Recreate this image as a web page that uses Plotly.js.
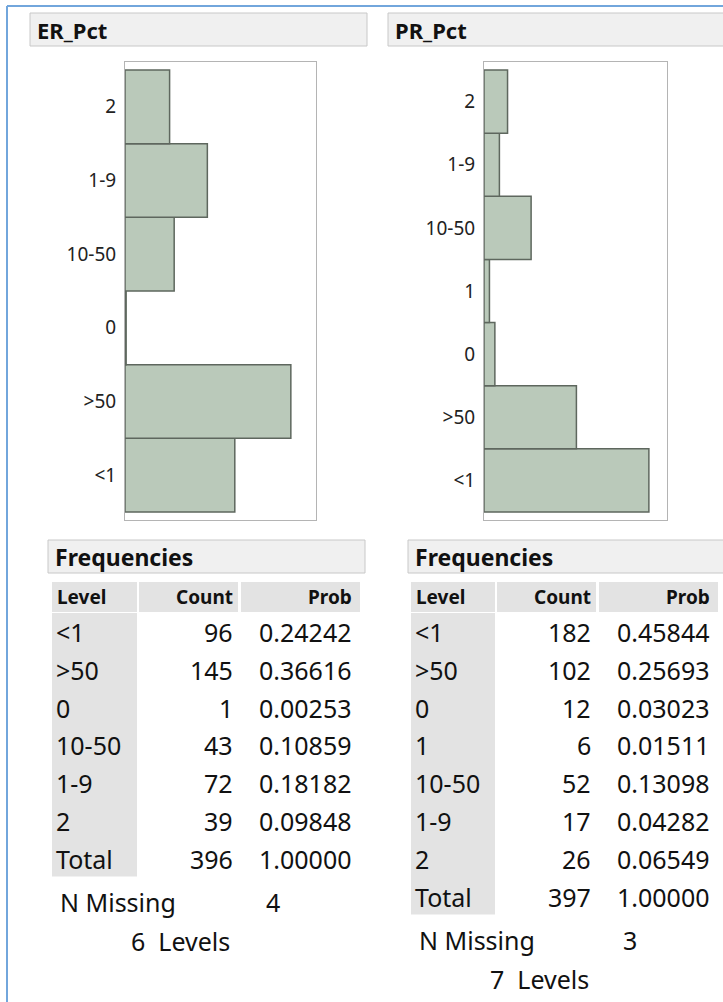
<!DOCTYPE html>
<html><head><meta charset="utf-8">
<script src="https://cdn.plot.ly/plotly-3.0.1.min.js"></script>
<style>html,body{margin:0;padding:0;background:#fff;}#chart{width:723px;height:1002px;}</style>
</head><body><div id="chart"></div>
<script>
// ---- data ----
var erLevels = ["<1", ">50", "0", "10-50", "1-9", "2"];
var erCounts = [96, 145, 1, 43, 72, 39];
var erProbs = ["0.24242", "0.36616", "0.00253", "0.10859", "0.18182", "0.09848"];
var erTotal = 396, erMissing = 4, erNLevels = 6;

var prLevels = ["<1", ">50", "0", "1", "10-50", "1-9", "2"];
var prCounts = [182, 102, 12, 6, 52, 17, 26];
var prProbs = ["0.45844", "0.25693", "0.03023", "0.01511", "0.13098", "0.04282", "0.06549"];
var prTotal = 397, prMissing = 3, prNLevels = 7;

// ---- helpers ----
var W = 723, H = 1002;
function X(p){ return p / W; }
function Y(p){ return 1 - p / H; }
var FONT = "Noto Sans, Open Sans, sans-serif";
var TXT = "#111111";
var shapes = [], ann = [];
function rect(x0, y0, x1, y1, fill, line){
  shapes.push({type:"rect", xref:"paper", yref:"paper", x0:X(x0), x1:X(x1), y0:Y(y1), y1:Y(y0),
    fillcolor:fill, line:{color:line || fill, width: line ? 1 : 0}, layer:"below"});
}
function txt(t, x, y, anchor, size, bold, color){
  ann.push({xref:"paper", yref:"paper", x:X(x), y:Y(y), xanchor:anchor, yanchor:"middle",
    text: bold ? "<b>" + t + "</b>" : t, showarrow:false,
    font:{family:FONT, size:size, color:color || TXT}});
}

// outer blue frame
shapes.push({type:"line", xref:"paper", yref:"paper", x0:X(7), x1:X(7), y0:0, y1:Y(6), line:{color:"#72a6dc", width:2}});
shapes.push({type:"line", xref:"paper", yref:"paper", x0:X(7), x1:1, y0:Y(6), y1:Y(6), line:{color:"#72a6dc", width:2}});

function panel(o){
  // title bar
  rect(o.tx0, 13, o.tx1, 46, "#f0f0f0", "#c8c8c8");
  txt(o.title, o.tx0 + 5, 30, "left", 22, true);
  // frequencies bar
  rect(o.fx0, 540, o.fx1, 573, "#f0f0f0", "#c8c8c8");
  txt("Frequencies", o.fx0 + 5, 557, "left", 23, true);
  // header cells
  var c = o.cols; // [lvl0,lvl1,cnt0,cnt1,prb0,prb1]
  rect(c[0], 582, c[1], 612, "#e3e3e3");
  rect(c[2], 582, c[3], 612, "#e3e3e3");
  rect(c[4], 582, c[5], 612, "#e3e3e3");
  txt("Level", c[0] + 3, 597, "left", 19, true);
  txt("Count", c[3] - 3, 597, "right", 19, true);
  txt("Prob", c[5] - 6, 597, "right", 19, true);
  var n = o.levels.length;
  var rowH = 37.8, y0 = 632;
  rect(c[0], 613, c[1], 613 + rowH * (n + 1) - 1, "#e3e3e3");
  var fs = 25;
  for (var i = 0; i < n; i++){
    var y = y0 + rowH * i;
    txt(o.levels[i], c[0] + 2, y, "left", fs, false);
    txt(String(o.counts[i]), c[3] - 3, y, "right", fs, false);
    txt(o.probs[i], c[5] - 6, y, "right", fs, false);
  }
  var yt = y0 + rowH * n;
  txt("Total", c[0] + 2, yt, "left", fs, false);
  txt(String(o.total), c[3] - 3, yt, "right", fs, false);
  txt("1.00000", c[5] - 6, yt, "right", fs, false);
  txt("N Missing", c[0] + 6, yt + 43, "left", fs, false);
  txt(String(o.missing), o.missX, yt + 43, "center", fs, false);
  txt(o.nlev + "  Levels", c[0] + 77, yt + 82, "left", fs, false);
}

panel({title:"ER_Pct", tx0:30, tx1:367, fx0:48, fx1:365, cols:[52,137,139,238,241,360],
  levels:erLevels, counts:erCounts, probs:erProbs, total:erTotal, missing:erMissing, missX:273, nlev:erNLevels});
panel({title:"PR_Pct", tx0:388, tx1:730, fx0:408, fx1:730, cols:[411,495,497,596,599,718],
  levels:prLevels, counts:prCounts, probs:prProbs, total:prTotal, missing:prMissing, missX:630, nlev:prNLevels});

var barStyle = {color:"#bac9ba", line:{color:"#5e675e", width:1.5}};
var traces = [
  {type:"bar", orientation:"h", x:erCounts, y:erLevels, xaxis:"x", yaxis:"y", marker:barStyle, hoverinfo:"skip", width:1},
  {type:"bar", orientation:"h", x:prCounts, y:prLevels, xaxis:"x2", yaxis:"y2", marker:barStyle, hoverinfo:"skip", width:1}
];

function pad(n){ var band = 442 / n; return 8 / band; }
var axCommon = {showline:true, mirror:true, linecolor:"#b4b4b4", linewidth:1, showgrid:false, zeroline:false, fixedrange:true};
var tf = {family:FONT, size:19, color:"#222"};
var layout = {
  width:W, height:H, margin:{l:0, r:0, t:0, b:0}, paper_bgcolor:"#fff", plot_bgcolor:"#fff",
  showlegend:false, bargap:0,
  xaxis: Object.assign({}, axCommon, {domain:[X(125), X(316)], range:[0, 167], showticklabels:false, ticks:"", anchor:"y"}),
  yaxis: Object.assign({}, axCommon, {domain:[Y(520), Y(62)], type:"category", categoryorder:"array", categoryarray:erLevels,
    range:[-0.5 - pad(6), 5.5 + pad(6)], ticks:"", ticklabelstandoff:4, anchor:"x", tickfont:tf}),
  xaxis2: Object.assign({}, axCommon, {domain:[X(484), X(667)], range:[0, 202], showticklabels:false, ticks:"", anchor:"y2"}),
  yaxis2: Object.assign({}, axCommon, {domain:[Y(520), Y(62)], type:"category", categoryorder:"array", categoryarray:prLevels,
    range:[-0.5 - pad(7), 6.5 + pad(7)], ticks:"", ticklabelstandoff:4, anchor:"x2", tickfont:tf}),
  shapes:shapes, annotations:ann
};
Plotly.newPlot("chart", traces, layout, {staticPlot:true, displayModeBar:false});
</script>
</body></html>
